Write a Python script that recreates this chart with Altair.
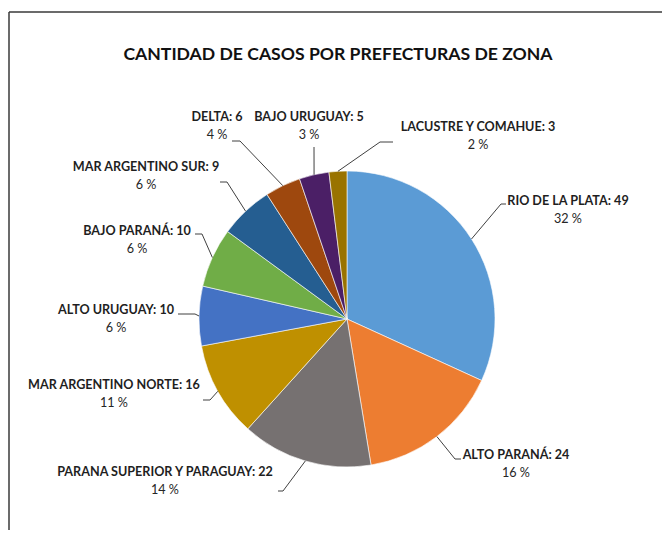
import altair as alt
import pandas as pd
import numpy as np

# ---- data ----
categories = ["RIO DE LA PLATA", "ALTO PARANÁ", "PARANA SUPERIOR Y PARAGUAY",
              "MAR ARGENTINO NORTE", "ALTO URUGUAY", "BAJO PARANÁ",
              "MAR ARGENTINO SUR", "DELTA", "BAJO URUGUAY", "LACUSTRE Y COMAHUE"]
values = [49, 24, 22, 16, 10, 10, 9, 6, 5, 3]
percent_labels = [32, 16, 14, 11, 6, 6, 6, 4, 3, 2]
colors = ["#5B9BD5", "#ED7D31", "#767171", "#BF9000", "#4472C4",
          "#70AD47", "#255E91", "#9E480E", "#4B1F66", "#997300"]
title_text = "CANTIDAD DE CASOS POR PREFECTURAS DE ZONA"

# ---- label layout (offsets from pie centre, px, y down) ----
label_xy = [(221, -118), (169, 136), (-182, 153), (-233, 66), (-231, -9),
            (-210, -88), (-201, -152), (-130, -202), (-38, -202), (131, -192)]
elbow_xy = [(154, -115), (108, 140), (-64, 172), (-137, 81), (-152, -5),
            (-145, -85), (-120, -137), (-107, -178), (-33, -172), (33, -177)]
end_x = [159, 114, -69, -144, -169, -152, -127, -115, -33, 46]

R = 148
FONT = "Lato"

total = sum(values)
cum = np.cumsum([0] + values)
mid = [(cum[i] + cum[i + 1]) / 2 / total * 2 * np.pi for i in range(len(values))]

df = pd.DataFrame({
    "cat": categories, "value": values, "idx": list(range(len(values))),
    "cx": 0, "cy": 0,
})
lab = pd.DataFrame({
    "line1": [f"{c}: {v}" for c, v in zip(categories, values)],
    "line2": [f"{p} %" for p in percent_labels],
    "lx": [p[0] for p in label_xy],
    "ly": [p[1] for p in label_xy],
})
lab["ly2"] = lab["ly"] + 18

rows = []
for i in range(len(values)):
    ex, ey = R * np.sin(mid[i]), -R * np.cos(mid[i])
    rows.append({"k": i, "o": 0, "x": ex, "y": ey})
    rows.append({"k": i, "o": 1, "x": elbow_xy[i][0], "y": elbow_xy[i][1]})
    rows.append({"k": i, "o": 2, "x": end_x[i], "y": elbow_xy[i][1]})
lines = pd.DataFrame(rows)

W, H = 654, 522
xs = alt.Scale(domain=[-339, 315])
ys = alt.Scale(domain=[-311, 211], reverse=True)

pie = alt.Chart(df).mark_arc(radius=R, stroke="white", strokeWidth=0.6).encode(
    theta=alt.Theta("value:Q", stack=True),
    order=alt.Order("idx:Q"),
    color=alt.Color("cat:N", scale=alt.Scale(domain=categories, range=colors), legend=None),
    x=alt.X("cx:Q", scale=xs, axis=None),
    y=alt.Y("cy:Q", scale=ys, axis=None),
)

leaders = alt.Chart(lines).mark_line(color="#404040", strokeWidth=1).encode(
    x=alt.X("x:Q", scale=xs, axis=None),
    y=alt.Y("y:Q", scale=ys, axis=None),
    detail="k:N",
    order="o:Q",
)

t1 = alt.Chart(lab).mark_text(font=FONT, fontSize=12.6, fontWeight="bold",
                              color="#1f1f1f", align="center", baseline="middle").encode(
    x=alt.X("lx:Q", scale=xs, axis=None),
    y=alt.Y("ly:Q", scale=ys, axis=None),
    text="line1:N",
)
t2 = alt.Chart(lab).mark_text(font=FONT, fontSize=12.6, color="#262626",
                              align="center", baseline="middle").encode(
    x=alt.X("lx:Q", scale=xs, axis=None),
    y=alt.Y("ly2:Q", scale=ys, axis=None),
    text="line2:N",
)

title = alt.Chart(pd.DataFrame({"t": [title_text]})).mark_text(
    font=FONT, fontSize=17.6, fontWeight="bold", color="#111111",
    align="center", baseline="middle").encode(
    x=alt.value(330), y=alt.value(47), text="t:N")

border_left = alt.Chart(pd.DataFrame({"a": [0]})).mark_rule(color="#3a3a3a", strokeWidth=1.5).encode(
    x=alt.value(1), y=alt.value(4), y2=alt.value(H + 10))
border_top = alt.Chart(pd.DataFrame({"a": [0]})).mark_rule(color="#3a3a3a", strokeWidth=1.5).encode(
    x=alt.value(1), x2=alt.value(W + 10), y=alt.value(4))

chart = alt.layer(border_left, border_top, pie, leaders, t1, t2, title).properties(
    width=W, height=H, padding=0, autosize=alt.AutoSizeParams(type="none")
).configure_view(stroke=None)

chart.save("out.html", embed_options={"renderer": "svg", "actions": False})
